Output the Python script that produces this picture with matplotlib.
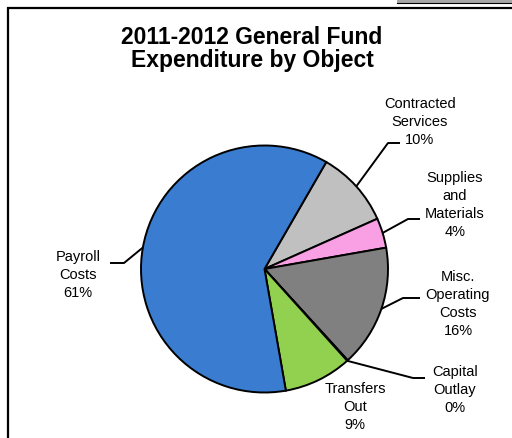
import matplotlib.pyplot as plt
import numpy as np

plt.rcParams['font.family'] = ['Liberation Sans', 'DejaVu Sans']

# expenditure share by object (percent), clockwise from the top right
categories = ['Contracted\nServices', 'Supplies\nand\nMaterials', 'Misc.\nOperating\nCosts',
              'Capital\nOutlay', 'Transfers\nOut', 'Payroll\nCosts']
values = [10.0, 3.9, 16.0, 0.1, 8.9, 61.1]
colors = ['#c0c0c0', '#f9a0e4', '#808080', '#1f3f7f', '#92d050', '#3a7dd0']

W, H = 512, 438
fig = plt.figure(figsize=(W / 100, H / 100), dpi=100)
ax = fig.add_axes([0, 0, 1, 1])

cx, cy, r = 264.5, H - 269, 123.5
wedges, _ = ax.pie(values, colors=colors, startangle=60, counterclock=False,
                   center=(cx, cy), radius=r, frame=True,
                   wedgeprops=dict(edgecolor='black', linewidth=1.4))
ax.set_xlim(0, W)
ax.set_ylim(0, H)
ax.set_aspect('equal')
ax.axis('off')

# label placement (pixel coords, y from top): text centre, leader elbow, leader end
layout = [
    ((420, 122), (388, 143), (400, 143)),
    ((455, 205), (408, 219), (420, 219)),
    ((458, 304), (403, 298), (420, 298)),
    ((455, 390), (413, 378), (425, 378)),
    ((355, 407), None, None),
    ((78, 275), (124, 263), (110, 263)),
]

for w, cat, v, (tpos, elbow, end) in zip(wedges, categories, values, layout):
    label = f'{cat}\n{v:.0f}%'
    ax.text(tpos[0], H - tpos[1], label, ha='center', va='center',
            fontsize=10.5, linespacing=1.36)
    if elbow is None:
        continue
    # anchor: mid angle of the wedge, or its edge for very thin slices
    ang = np.deg2rad((w.theta1 + w.theta2) / 2)
    if v < 1:
        ang = np.deg2rad(w.theta1)
    ax0, ay0 = cx + r * np.cos(ang), cy + r * np.sin(ang)
    ax.plot([ax0, elbow[0], end[0]], [ay0, H - elbow[1], H - end[1]],
            color='black', linewidth=1.4, solid_capstyle='butt')

ax.text(252, H - 49, '2011-2012 General Fund\nExpenditure by Object',
        ha='center', va='center', fontsize=16.5, fontweight='bold', linespacing=0.98)

# chart area border
ax.plot([8, 8, W], [0, H - 8, H - 8], color='black', linewidth=1.6,
        solid_joinstyle='miter')
ax.fill_between([397, W], H - 2.5, H, color='#a6a6a6', linewidth=0)
ax.plot([397, W], [H - 3, H - 3], color='black', linewidth=0.8)

fig.savefig('out.png', dpi=100)
